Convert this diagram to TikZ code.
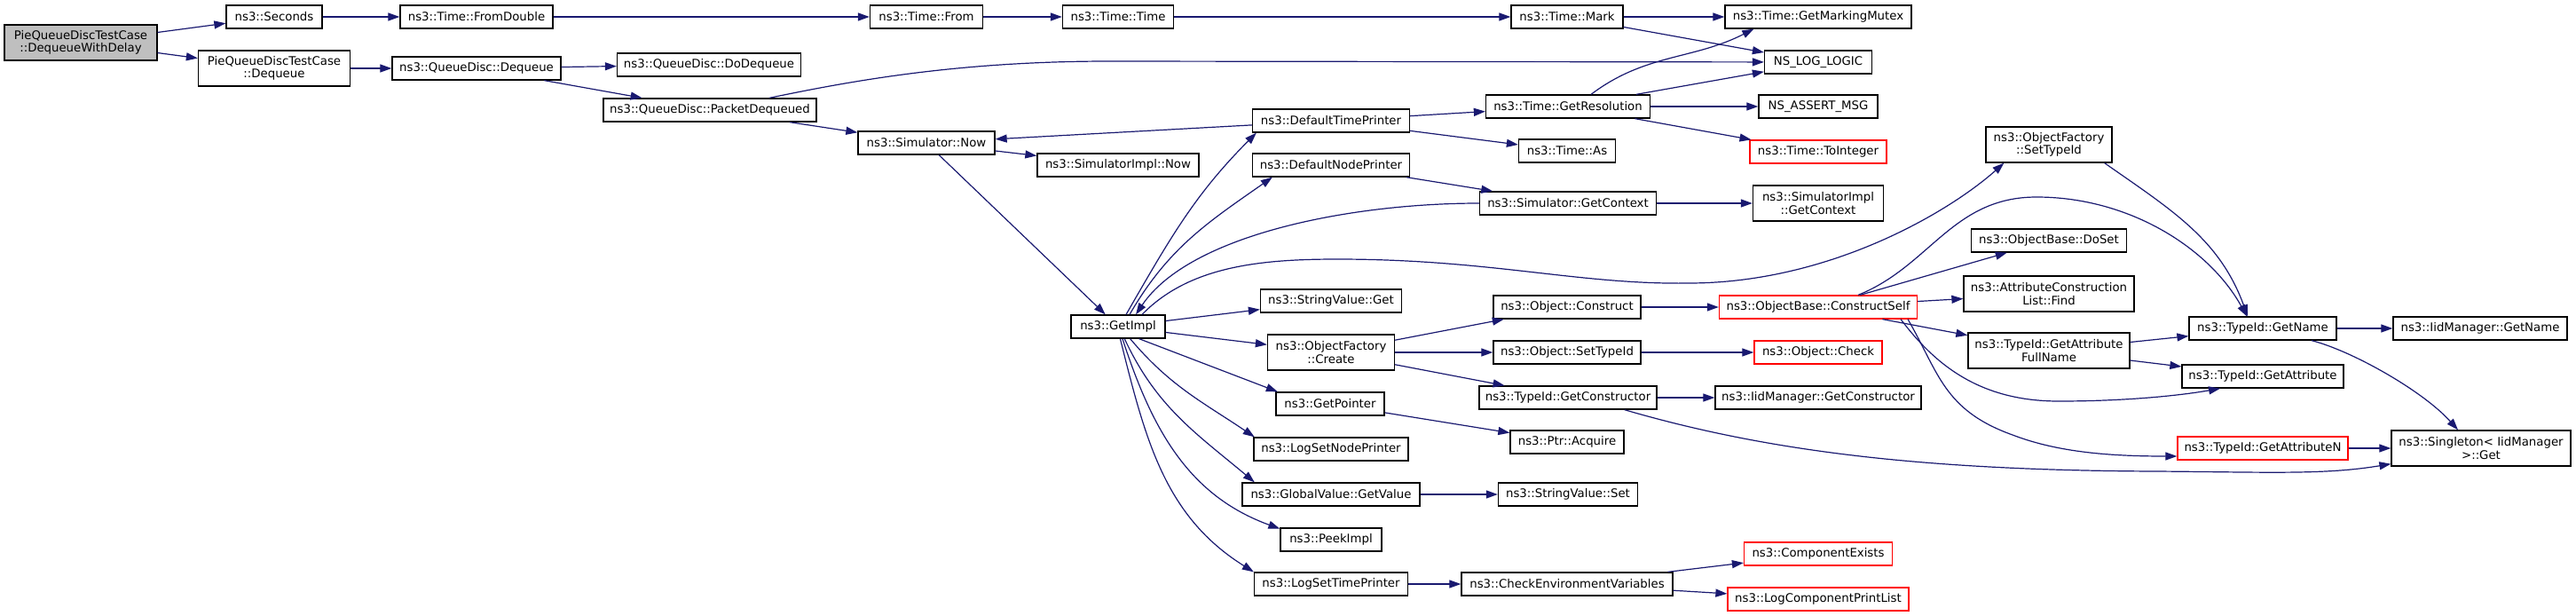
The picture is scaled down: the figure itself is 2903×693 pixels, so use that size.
\documentclass[tikz,border=0pt]{standalone}
\usepackage{fontspec}
\setmainfont{DejaVu Sans}
\usetikzlibrary{positioning,arrows.meta,calc}
\definecolor{edgeblue}{HTML}{191970}
\definecolor{rootgray}{HTML}{BFBFBF}

\begin{document}
\begin{tikzpicture}[
  x=1pt, y=1pt,
  font=\fontsize{13.3}{14.5}\selectfont,
  >={Triangle[length=13pt,width=9pt]},
  fnbox/.style={rectangle, draw=black, line width=1.3pt, fill=white, inner sep=0pt, minimum height=26pt, align=center},
  fnbox2/.style={fnbox, minimum height=40pt},
  rootbox/.style={fnbox2, fill=rootgray},
  redbox/.style={fnbox, draw=red},
  call/.style={->, draw=edgeblue, line width=1.2pt}
]
  \useasboundingbox (0,0) rectangle (2903,-693);

  \node[rootbox, minimum width=172pt] (root) at (91,-48) {PieQueueDiscTestCase\\::DequeueWithDelay};
  \node[fnbox, minimum width=108pt] (sec) at (309,-19) {ns3::Seconds};
  \node[fnbox2, minimum width=171pt] (pdeq) at (309,-77) {PieQueueDiscTestCase\\::Dequeue};
  \node[fnbox, minimum width=172pt] (fromdbl) at (537,-19) {ns3::Time::FromDouble};
  \node[fnbox, minimum width=190pt] (qdeq) at (537,-77) {ns3::QueueDisc::Dequeue};
  \node[fnbox, minimum width=207pt] (dodeq) at (799,-73) {ns3::QueueDisc::DoDequeue};
  \node[fnbox, minimum width=240pt] (pktdeq) at (800,-124) {ns3::QueueDisc::PacketDequeued};
  \node[fnbox, minimum width=127pt] (tfrom) at (1044,-19) {ns3::Time::From};
  \node[fnbox, minimum width=154pt] (simnow) at (1044,-161) {ns3::Simulator::Now};
  \node[fnbox, minimum width=125pt] (ttime) at (1260,-19) {ns3::Time::Time};
  \node[fnbox, minimum width=182pt] (simimplnow) at (1260,-186) {ns3::SimulatorImpl::Now};
  \node[fnbox, minimum width=106pt] (getimpl) at (1260,-368) {ns3::GetImpl};

  \node[fnbox, minimum width=177pt] (dtp) at (1500,-136) {ns3::DefaultTimePrinter};
  \node[fnbox, minimum width=177pt] (dnp) at (1500,-186) {ns3::DefaultNodePrinter};
  \node[fnbox, minimum width=159pt] (svget) at (1500,-339) {ns3::StringValue::Get};
  \node[fnbox2, minimum width=143pt] (ofcreate) at (1500,-397) {ns3::ObjectFactory\\::Create};
  \node[fnbox, minimum width=122pt] (getptr) at (1499,-455) {ns3::GetPointer};
  \node[fnbox, minimum width=174pt] (lsnp) at (1500,-506) {ns3::LogSetNodePrinter};
  \node[fnbox, minimum width=200pt] (gval) at (1500,-557) {ns3::GlobalValue::GetValue};
  \node[fnbox, minimum width=114pt] (peek) at (1500,-608) {ns3::PeekImpl};
  \node[fnbox, minimum width=173pt] (lstp) at (1500,-658) {ns3::LogSetTimePrinter};

  \node[fnbox, minimum width=126pt] (tmark) at (1766,-19) {ns3::Time::Mark};
  \node[fnbox, minimum width=185pt] (gres) at (1767,-120) {ns3::Time::GetResolution};
  \node[fnbox, minimum width=109pt] (tas) at (1766,-170) {ns3::Time::As};
  \node[fnbox, minimum width=199pt] (gctx) at (1767,-229) {ns3::Simulator::GetContext};
  \node[fnbox, minimum width=166pt] (oconstruct) at (1766,-346) {ns3::Object::Construct};
  \node[fnbox, minimum width=166pt] (osettid) at (1766,-397) {ns3::Object::SetTypeId};
  \node[fnbox, minimum width=200pt] (getctor) at (1767,-448) {ns3::TypeId::GetConstructor};
  \node[fnbox, minimum width=128pt] (pacquire) at (1766,-498) {ns3::Ptr::Acquire};
  \node[fnbox, minimum width=157pt] (svset) at (1767,-557) {ns3::StringValue::Set};
  \node[fnbox, minimum width=238pt] (checkenv) at (1766,-658) {ns3::CheckEnvironmentVariables};

  \node[fnbox, minimum width=210pt] (gmm) at (2049,-19) {ns3::Time::GetMarkingMutex};
  \node[fnbox, minimum width=121pt] (nslog) at (2049,-70) {NS\_LOG\_LOGIC};
  \node[fnbox, minimum width=134pt] (nsassert) at (2049,-120) {NS\_ASSERT\_MSG};
  \node[redbox, minimum width=154pt] (toint) at (2049,-171) {ns3::Time::ToInteger};
  \node[fnbox2, minimum width=147pt] (simimplctx) at (2049,-229) {ns3::SimulatorImpl\\::GetContext};
  \node[redbox, minimum width=223pt] (cself) at (2049,-346) {ns3::ObjectBase::ConstructSelf};
  \node[redbox, minimum width=144pt] (ocheck) at (2049,-397) {ns3::Object::Check};
  \node[fnbox, minimum width=232pt] (iidctor) at (2049,-448) {ns3::IidManager::GetConstructor};
  \node[redbox, minimum width=167pt] (compexists) at (2049,-624) {ns3::ComponentExists};
  \node[redbox, minimum width=204pt] (logcpl) at (2049,-675) {ns3::LogComponentPrintList};

  \node[fnbox2, minimum width=142pt] (ofsettid) at (2309,-163) {ns3::ObjectFactory\\::SetTypeId};
  \node[fnbox, minimum width=175pt] (doset) at (2309,-271) {ns3::ObjectBase::DoSet};
  \node[fnbox2, minimum width=192pt] (acfind) at (2309,-331) {ns3::AttributeConstruction\\List::Find};
  \node[fnbox2, minimum width=182pt] (gafull) at (2309,-395) {ns3::TypeId::GetAttribute\\FullName};
  \node[fnbox, minimum width=166pt] (tgetname) at (2550,-370) {ns3::TypeId::GetName};
  \node[fnbox, minimum width=182pt] (tgetattr) at (2550,-424) {ns3::TypeId::GetAttribute};
  \node[redbox, minimum width=192pt] (tgetattrn) at (2550,-505) {ns3::TypeId::GetAttributeN};
  \node[fnbox, minimum width=196pt] (iidgetname) at (2795,-370) {ns3::IidManager::GetName};
  \node[fnbox2, minimum width=202pt] (singleton) at (2796,-505) {ns3::Singleton< IidManager\\>::Get};

  \draw[call] (root) -- (sec);
  \draw[call] (root) -- (pdeq);
  \draw[call] (sec) -- (fromdbl);
  \draw[call] (fromdbl) -- (tfrom);
  \draw[call] (tfrom) -- (ttime);
  \draw[call] (ttime) -- (tmark);
  \draw[call] (tmark) -- (gmm);
  \draw[call] (tmark) -- (nslog);
  \draw[call] (pdeq) -- (qdeq);
  \draw[call] (qdeq) -- (dodeq);
  \draw[call] (qdeq) -- (pktdeq);
  \draw[call] ($(pktdeq.north)+(67,0)$) .. controls (960,-91) and (1080,-69) .. (1250,-69) -- (nslog);
  \draw[call] (pktdeq) -- (simnow);
  \draw[call] (simnow) -- (simimplnow);
  \draw[call] (simnow) -- (getimpl);
  \draw[call] (dtp) -- (simnow);
  \draw[call] (dtp) -- (gres);
  \draw[call] (dtp) -- (tas);
  \draw[call] ($(gres.north)+(26,0)$) to[out=37,in=-153] ($(gmm.south west)+(33,0)$);
  \draw[call] (gres) -- (nslog);
  \draw[call] (gres) -- (nsassert);
  \draw[call] (gres) -- (toint);
  \draw[call] (dnp) -- (gctx);
  \draw[call] (gctx) -- (simimplctx);
  \draw[call] (gctx.west) .. controls (1520,-229) and (1340,-265) .. ($(getimpl.north)+(20,0)$);
  \draw[call] ($(getimpl.north)+(9,0)$) to[out=60,in=-135] ($(dtp.south west)+(5,0)$);
  \draw[call] ($(getimpl.north)+(13,0)$) to[out=60,in=-145] ($(dnp.south west)+(23,0)$);
  \draw[call] ($(getimpl.north)+(27,0)$) .. controls (1340,-300) and (1420,-292) .. (1507,-292)
    .. controls (1680,-292) and (1780,-321) .. (1903,-319)
    .. controls (2060,-319) and (2195,-240) .. ($(ofsettid.south west)+(21,0)$);
  \draw[call] (getimpl) -- (svget);
  \draw[call] (getimpl) -- (ofcreate);
  \draw[call] (getimpl.-30) -- (getptr.167);
  \draw[call] (getimpl.-45) to[out=-50,in=146] (lsnp.171);
  \draw[call] (getimpl.-62) to[out=-65,in=140] (gval.171);
  \draw[call] (getimpl.-70) to[out=-72,in=160] (peek.168);
  \draw[call] (getimpl.-80) to[out=-76,in=148] (lstp.north west);
  \draw[call] (ofcreate) -- (oconstruct);
  \draw[call] (ofcreate) -- (osettid);
  \draw[call] (ofcreate) -- (getctor);
  \draw[call] (oconstruct) -- (cself);
  \draw[call] (osettid) -- (ocheck);
  \draw[call] (getctor) -- (iidctor);
  \draw[call] ($(getctor.south east)+(-37,0)$) .. controls (1980,-505) and (2150,-530) .. (2430,-531)
    .. controls (2560,-532) and (2620,-535) .. ($(singleton.south west)+(0,3)$);
  \draw[call] (getptr) -- (pacquire);
  \draw[call] (gval) -- (svset);
  \draw[call] (lstp) -- (checkenv);
  \draw[call] (checkenv) -- (compexists);
  \draw[call] (checkenv) -- (logcpl);
  \draw[call] (cself) -- (doset);
  \draw[call] (cself) -- (acfind);
  \draw[call] (cself) -- (gafull);
  \draw[call] ($(cself.north)+(45,0)$) .. controls (2175,-300) and (2200,-222) .. (2295,-222)
    .. controls (2400,-222) and (2490,-280) .. ($(tgetname.north)+(-18,0)$);
  \draw[call] ($(cself.south)+(93,0)$) .. controls (2180,-410) and (2230,-452) .. (2320,-452)
    .. controls (2400,-452) and (2460,-445) .. ($(tgetattr.south)+(-48,0)$);
  \draw[call] ($(cself.south)+(101,0)$) .. controls (2185,-420) and (2190,-462) .. (2268,-490)
    .. controls (2320,-510) and (2380,-514) .. ($(tgetattrn.west)+(0,-9)$);
  \draw[call] ($(ofsettid.south east)+(-9,0)$) to[out=-35,in=110] ($(tgetname.north)+(-17,0)$);
  \draw[call] (gafull) -- (tgetname);
  \draw[call] (gafull) -- (tgetattr);
  \draw[call] (tgetname) -- (iidgetname);
  \draw[call] ($(tgetname.south)+(55,0)$) .. controls (2650,-395) and (2730,-440) .. ($(singleton.north)+(-26,0)$);
  \draw[call] (tgetattrn) -- (singleton);
\end{tikzpicture}
\end{document}
